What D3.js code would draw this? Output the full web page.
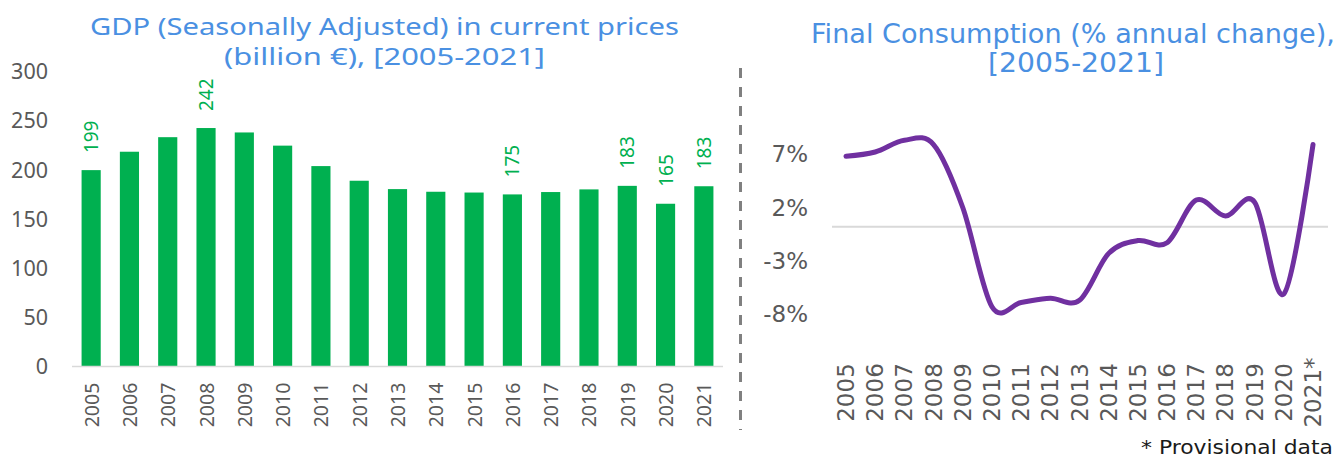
<!DOCTYPE html>
<html><head><meta charset="utf-8">
<script src="https://cdn.jsdelivr.net/npm/d3@7"></script>
<style>body{margin:0;background:#fff}svg{display:block}</style>
</head><body>
<script>
// ---- data ----
const years = ["2005","2006","2007","2008","2009","2010","2011","2012","2013","2014","2015","2016","2017","2018","2019","2020","2021"];
const gdpValues = [199.2,217.9,232.7,242.0,237.5,224.1,203.3,188.4,179.9,177.2,176.4,174.5,176.9,179.6,183.2,165.0,182.8];
const gdpLabelledYears = ["2005","2008","2016","2019","2020","2021"];
const gdpTicks = [0,50,100,150,200,250,300];
const consYears = ["2005","2006","2007","2008","2009","2010","2011","2012","2013","2014","2015","2016","2017","2018","2019","2020","2021*"];
const consValues = [6.6,7.0,8.1,7.7,1.8,-7.5,-7.1,-6.7,-6.9,-2.5,-1.3,-1.5,2.5,1.0,2.3,-6.3,7.7];
const consTicks = [7,2,-3,-8];
const leftTitle = ["GDP (Seasonally Adjusted) in current prices","(billion €), [2005-2021]"];
const rightTitle = ["Final Consumption (% annual change),","[2005-2021]"];
const footnote = "* Provisional data";

const W=1339,H=458;
const svg=d3.select("body").append("svg").attr("width",W).attr("height",H);
const GREEN="#00B050", GREY="#595959", BLUE="#4A90E2", PURPLE="#7030A0";
const SANS="'Noto Sans', 'Open Sans', sans-serif";
const VERD="'DejaVu Sans', Verdana, sans-serif";

// ---- left chart ----
const x=d3.scaleBand().domain(years).range([72,723]).paddingInner(0.5).paddingOuter(0.25);
const y=d3.scaleLinear().domain([0,300]).range([366,71]);

svg.append("g").selectAll("rect").data(gdpValues).join("rect")
  .attr("x",(d,i)=>x(years[i])).attr("width",x.bandwidth())
  .attr("y",d=>y(d)).attr("height",d=>y(0)-y(d)).attr("fill",GREEN);

svg.append("line").attr("x1",72).attr("x2",723).attr("y1",y(0)+0.5).attr("y2",y(0)+0.5)
  .attr("stroke","#D9D9D9").attr("stroke-width",1.5);

const yAx=svg.append("g").attr("transform","translate(72,0)")
  .call(d3.axisLeft(y).tickValues(gdpTicks).tickSize(0).tickPadding(24));
yAx.select(".domain").remove();
yAx.selectAll("text").attr("font-family",SANS).attr("font-size",21.5).attr("fill",GREY).attr("dy","0.36em");

const xAx=svg.append("g").attr("transform","translate(0,0)")
  .call(d3.axisBottom(x).tickSize(0));
xAx.select(".domain").remove();
xAx.selectAll(".tick").attr("transform",d=>`translate(${x(d)+x.bandwidth()/2},405)`);
xAx.selectAll("text").attr("y",0).attr("dy",null).attr("transform","rotate(-90)")
  .attr("text-anchor","middle").attr("dominant-baseline","central")
  .attr("font-family",SANS).attr("font-size",19.5).attr("fill",GREY);

svg.append("g").selectAll("text").data(years.map((yr,i)=>({yr,v:gdpValues[i]})).filter(d=>gdpLabelledYears.includes(d.yr)))
  .join("text")
  .attr("transform",d=>`translate(${x(d.yr)+x.bandwidth()/2},${y(d.v)-17}) rotate(-90)`)
  .attr("text-anchor","start").attr("dominant-baseline","central")
  .attr("font-family",SANS).attr("font-size",19).attr("fill",GREEN)
  .text(d=>Math.round(d.v));

const lt=svg.append("g").attr("font-family",SANS).attr("font-size",24).attr("fill",BLUE).attr("text-anchor","middle");
lt.append("text").attr("x",384.5).attr("y",35).attr("textLength",589).attr("lengthAdjust","spacingAndGlyphs").text(leftTitle[0]);
lt.append("text").attr("x",384.5).attr("y",65).attr("textLength",321).attr("lengthAdjust","spacingAndGlyphs").text(leftTitle[1]);

// ---- separator ----
svg.append("line").attr("x1",740.5).attr("x2",740.5).attr("y1",68).attr("y2",430)
  .attr("stroke","#808080").attr("stroke-width",3).attr("stroke-dasharray","10,9");

// ---- right chart ----
const xr=d3.scalePoint().domain(consYears).range([846,1313]);
const yr=d3.scaleLinear().domain([-10,10]).range([333.4,120]);

svg.append("line").attr("x1",832).attr("x2",1328).attr("y1",yr(0)).attr("y2",yr(0))
  .attr("stroke","#D9D9D9").attr("stroke-width",2);

const yrAx=svg.append("g").attr("transform","translate(808,0)")
  .call(d3.axisLeft(yr).tickValues(consTicks).tickSize(0).tickPadding(0).tickFormat(d=>d+"%"));
yrAx.select(".domain").remove();
yrAx.selectAll("text").attr("font-family",VERD).attr("font-size",23).attr("fill",GREY).attr("dy","0.42em");

const line=d3.line().x((d,i)=>xr(consYears[i])).y(d=>yr(d)).curve(d3.curveCardinal.tension(0));
svg.append("path").datum(consValues).attr("d",line).attr("fill","none")
  .attr("stroke",PURPLE).attr("stroke-width",5).attr("stroke-linecap","round").attr("stroke-linejoin","round");

const xrAx=svg.append("g").call(d3.axisBottom(xr).tickSize(0));
xrAx.select(".domain").remove();
xrAx.selectAll(".tick").attr("transform",d=>`translate(${xr(d)},392.5)`);
xrAx.selectAll("text").attr("y",0).attr("dy",null).attr("transform","rotate(-90)")
  .attr("text-anchor","middle").attr("dominant-baseline","central")
  .attr("font-family",VERD).attr("font-size",23).attr("fill",GREY);

const rt=svg.append("g").attr("font-family",VERD).attr("font-size",26).attr("fill",BLUE).attr("text-anchor","middle");
rt.append("text").attr("x",1073).attr("y",43).attr("textLength",524).attr("lengthAdjust","spacingAndGlyphs").text(rightTitle[0]);
rt.append("text").attr("x",1076).attr("y",72).attr("textLength",176).attr("lengthAdjust","spacingAndGlyphs").text(rightTitle[1]);

svg.append("text").attr("x",1333).attr("y",454).attr("text-anchor","end")
  .attr("font-family",VERD).attr("font-size",19.5).attr("fill","#1a1a1a")
  .attr("textLength",192).attr("lengthAdjust","spacingAndGlyphs").text(footnote);
</script>
</body></html>
